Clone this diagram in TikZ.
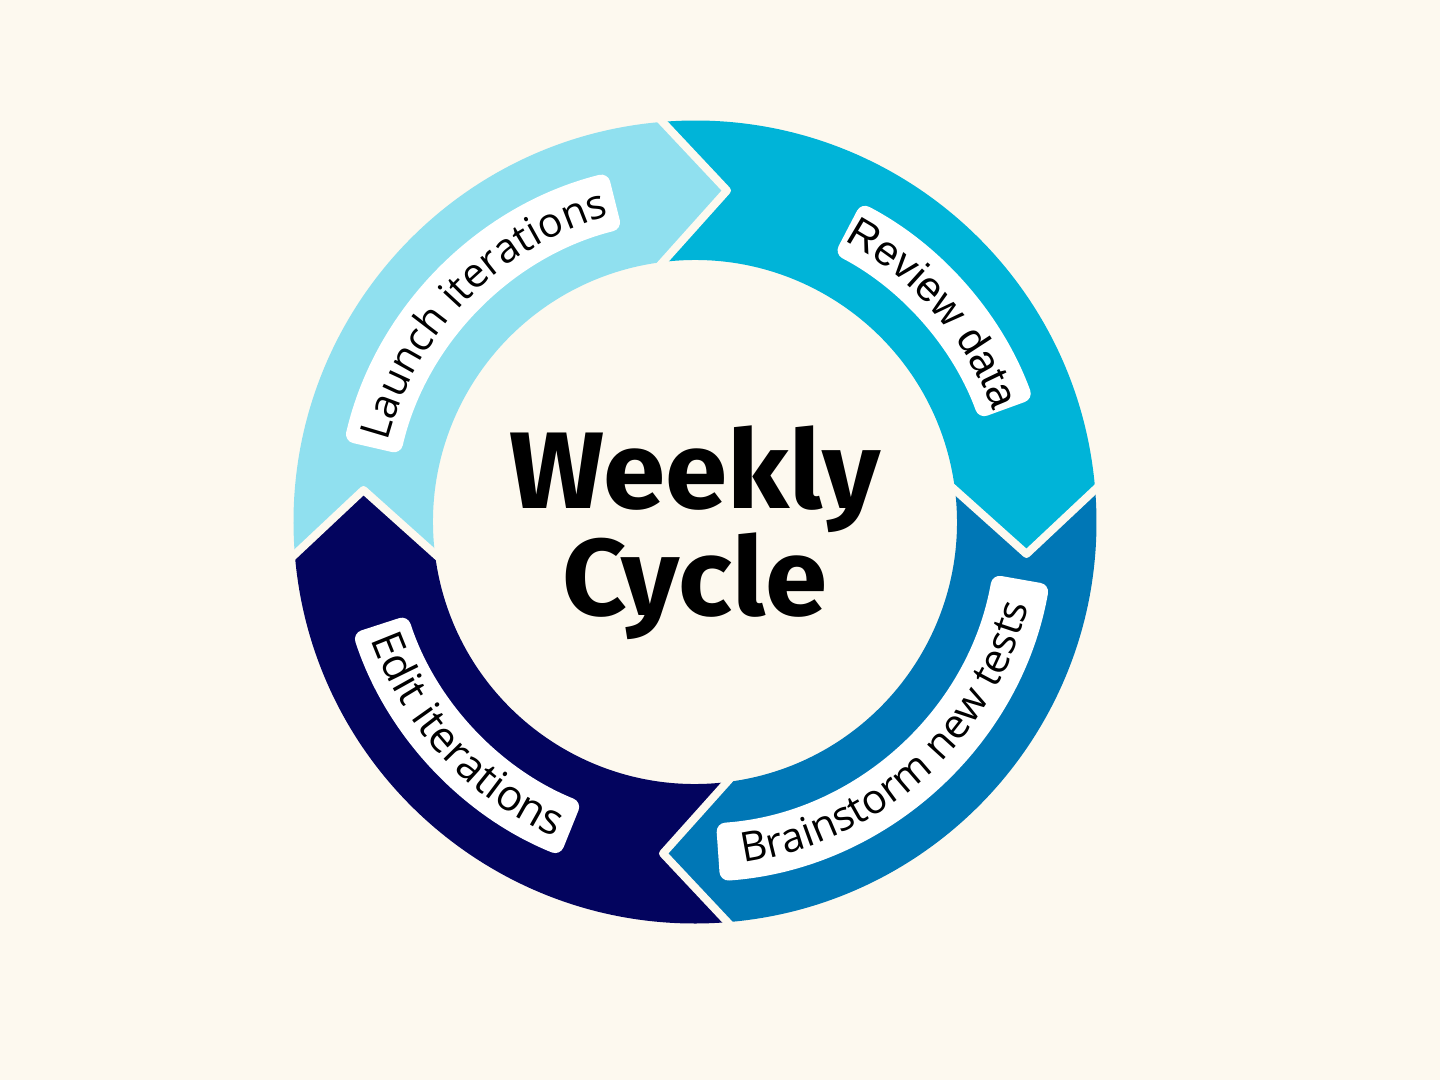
\documentclass[tikz,border=0pt]{standalone}
\usepackage{fontspec}
\setmainfont{Open Sans}
\newfontfamily\titlefont[FakeStretch=1.03]{Fira Sans}
\newfontfamily\osfont{Open Sans}
\newfontfamily\lsfont{Liberation Sans}
\usetikzlibrary{decorations.text}
\definecolor{bg}{HTML}{FDF9EF}
\definecolor{cA}{HTML}{90E0EF}
\definecolor{cB}{HTML}{00B4D8}
\definecolor{cC}{HTML}{0077B6}
\definecolor{cD}{HTML}{03045E}
\newcommand\lblOS{\osfont\fontsize{41pt}{49pt}\selectfont}
\newcommand\lblOSb{\osfont\fontsize{43pt}{51pt}\selectfont}
\newcommand\lblLS{\lsfont\fontsize{42pt}{50pt}\selectfont}
\newcommand\ringseg[2]{%
  \fill[#1] ({184.57+#2}:401.5pt) arc[start angle={184.57+#2}, end angle={94.57+#2}, radius=401.5pt]
    -- ({84.46+#2}:331.5pt) -- ({97.02+#2}:262pt)
    arc[start angle={97.02+#2}, end angle={187.02+#2}, radius=262pt]
    -- ({174.46+#2}:331.5pt) -- cycle;}
\newcommand\labelband[2]{%
  \fill[white, rounded corners=9pt] (#1:360pt) arc[start angle=#1, end angle=#2, radius=360pt]
    -- (#2:302pt) arc[start angle=#2, end angle=#1, radius=302pt] -- cycle;}
\begin{document}
\begin{tikzpicture}
\tikzset{
  gapline/.style={draw=bg, line width=8pt, line join=round},
  titletext/.style={font=\titlefont\bfseries\fontsize{109pt}{109pt}\selectfont, anchor=base, inner sep=0pt},
}
\useasboundingbox (-695pt,-558pt) rectangle (745pt,522pt);
\fill[bg] (-695pt,-558pt) rectangle (745pt,522pt);
% ring segments
\ringseg{cA}{0}
\ringseg{cB}{-90}
\ringseg{cC}{-180}
\ringseg{cD}{-270}
% gaps
\foreach \p in {0,-90,-180,-270}
  \draw[gapline, rotate=\p] (-45.5pt,414pt) -- (32pt,331.5pt) -- (-45.5pt,245pt);
% label bands
\labelband{167}{104}
\labelband{62.5}{20}
\labelband{-86}{-10}
\labelband{198}{248}
% labels
\path[decorate, decoration={text along path, text align=center, text={|\lblOS|Launch iterations}}]
  (167:318pt) arc[start angle=167, end angle=104, radius=318pt];
\path[decorate, decoration={text along path, text align=center, text={|\lblLS|Review data}}]
  (62.5:318pt) arc[start angle=62.5, end angle=20, radius=318pt];
\path[decorate, decoration={text along path, text align=center, text={|\lblOS|Brainstorm new tests}}]
  (-86:344pt) arc[start angle=-86, end angle=-10, radius=344pt];
\path[decorate, decoration={text along path, text align=center, text={|\lblOSb|Edit iterations}}]
  (198:345pt) arc[start angle=198, end angle=248, radius=345pt];
% title
\node[titletext] (t1) at (0pt,14pt) {Weekly};
\node[titletext] (t2) at (0pt,-93pt) {Cycle};
\end{tikzpicture}
\end{document}
